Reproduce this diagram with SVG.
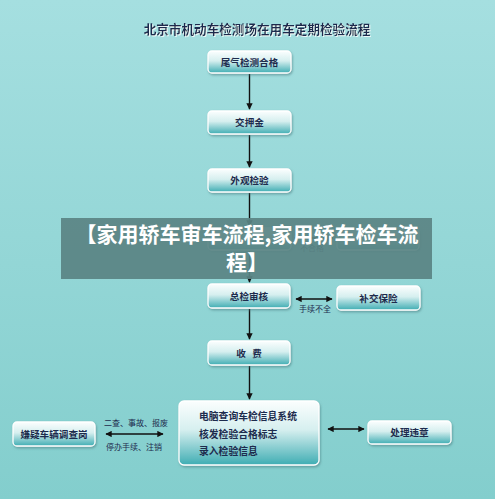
<svg xmlns="http://www.w3.org/2000/svg" width="495" height="499" viewBox="0 0 495 499">
<style>
.bx{fill:url(#bg1);stroke:#ffffff;stroke-width:1.3;filter:url(#sh)}
.t{font-family:"Noto Sans CJK SC","Liberation Serif",serif;font-weight:bold;fill:#1d2b4d;font-size:9.6px;text-anchor:middle}
.tl{font-family:"Noto Sans CJK SC","Liberation Serif",serif;font-weight:bold;fill:#1d2b4d;font-size:9.8px}
.lb{font-family:"Noto Sans CJK SC","Liberation Serif",serif;fill:#1d2b4d;font-size:8px;text-anchor:middle}
.ln{stroke:#111;stroke-width:1.4;fill:none}
.ban{font-family:"Noto Sans CJK SC","Liberation Sans",sans-serif;font-weight:bold;fill:#ffffff;font-size:21px;text-anchor:middle}
</style>
<defs>
<linearGradient id="bgp" x1="0" y1="0" x2="0" y2="1">
<stop offset="0" stop-color="#a5dfe0"/>
<stop offset="1" stop-color="#83cecd"/>
</linearGradient>
<linearGradient id="bg1" x1="0" y1="0" x2="0" y2="1">
<stop offset="0" stop-color="#fbfefe"/>
<stop offset="0.45" stop-color="#d6efef"/>
<stop offset="1" stop-color="#3fadb3"/>
</linearGradient>
<filter id="sh" x="-10%" y="-20%" width="125%" height="150%">
<feDropShadow dx="1" dy="1.5" stdDeviation="1" flood-color="#4a7c80" flood-opacity="0.6"/>
</filter>
<filter id="tsh" x="-5%" y="-30%" width="110%" height="160%">
<feDropShadow dx="1" dy="1" stdDeviation="0.6" flood-color="#ffffff" flood-opacity="0.8"/>
</filter>
<marker id="ah" viewBox="0 0 10 10" refX="9" refY="5" markerWidth="4.5" markerHeight="4.5" orient="auto-start-reverse">
<path d="M0,0 L10,5 L0,10 z" fill="#111"/>
</marker>
</defs>
<rect x="0" y="0" width="495" height="499" fill="url(#bgp)"/>
<text x="257" y="34" filter="url(#tsh)" style="font-family:'Noto Sans CJK SC','Liberation Serif',serif;font-weight:bold;fill:#1d2b4d;font-size:12.6px;text-anchor:middle">北京市机动车检测场在用车定期检验流程</text>

<g id="connectors">
<line class="ln" x1="249.5" y1="74" x2="249.5" y2="109" marker-end="url(#ah)"/>
<line class="ln" x1="249.5" y1="135" x2="249.5" y2="167" marker-end="url(#ah)"/>
<line class="ln" x1="249.5" y1="193" x2="249.5" y2="226" marker-end="url(#ah)"/>
<line class="ln" x1="294" y1="238" x2="333" y2="238" marker-end="url(#ah)"/>
<line class="ln" x1="249.5" y1="251" x2="249.5" y2="282" marker-end="url(#ah)"/>
<line class="ln" x1="296" y1="299" x2="332" y2="299" marker-start="url(#ah)" marker-end="url(#ah)"/>
<line class="ln" x1="249.5" y1="309" x2="249.5" y2="339" marker-end="url(#ah)"/>
<line class="ln" x1="249.5" y1="366" x2="249.5" y2="399" marker-end="url(#ah)"/>
<line class="ln" x1="106" y1="434" x2="163" y2="434" marker-start="url(#ah)" marker-end="url(#ah)"/>
<line class="ln" x1="328" y1="429" x2="364" y2="429" marker-start="url(#ah)" marker-end="url(#ah)"/>
<text class="lb" x="312" y="251">不合格</text>
<text class="lb" x="315" y="312">手续不全</text>
<text class="lb" x="136" y="426">二查、事故、报废</text>
<text class="lb" x="134" y="450">停办手续、注销</text>
</g>

<g id="n1"><rect class="bx" x="208" y="51" width="83" height="22" rx="4"/><text class="t" x="249.5" y="65.5">尾气检测合格</text></g>
<g id="n2"><rect class="bx" x="208" y="111" width="83" height="23" rx="4"/><text class="t" x="249.5" y="126">交押金</text></g>
<g id="n3"><rect class="bx" x="208" y="169" width="83" height="23" rx="4"/><text class="t" x="249.5" y="184">外观检验</text></g>
<g id="n4"><rect class="bx" x="208" y="228" width="83" height="22" rx="4"/></g>
<g id="n4b"><rect class="bx" x="337" y="228" width="82" height="22" rx="4"/></g>
<g id="n5"><rect class="bx" x="208" y="284" width="82" height="24" rx="4"/><text class="t" x="249" y="299.5">总检审核</text></g>
<g id="n5b"><rect class="bx" x="337" y="286" width="83" height="24" rx="4"/><text class="t" x="378.5" y="301.5">补交保险</text></g>
<g id="n6"><rect class="bx" x="208" y="341" width="82" height="24" rx="4"/><text class="t" x="249" y="356.5" xml:space="preserve">收   费</text></g>
<g id="n7"><rect class="bx" x="179" y="401" width="140" height="64" rx="5"/>
<text class="tl" x="199" y="419.5">电脑查询车检信息系统</text>
<text class="tl" x="199" y="437.5">核发检验合格标志</text>
<text class="tl" x="199" y="454.5">录入检验信息</text></g>
<g id="n8"><rect class="bx" x="13" y="422" width="82" height="24" rx="4"/><text class="t" x="54" y="437.5">嫌疑车辆调查岗</text></g>
<g id="n9"><rect class="bx" x="368" y="421" width="83" height="23" rx="4"/><text class="t" x="409.5" y="436">处理违章</text></g>

<g id="banner">
<rect x="61" y="218" width="371" height="61" fill="#5a8484" fill-opacity="0.93"/>
<text class="ban" x="247" y="242">【家用轿车审车流程,家用轿车检车流</text>
<text class="ban" x="247" y="270">程】</text>
</g>
</svg>
